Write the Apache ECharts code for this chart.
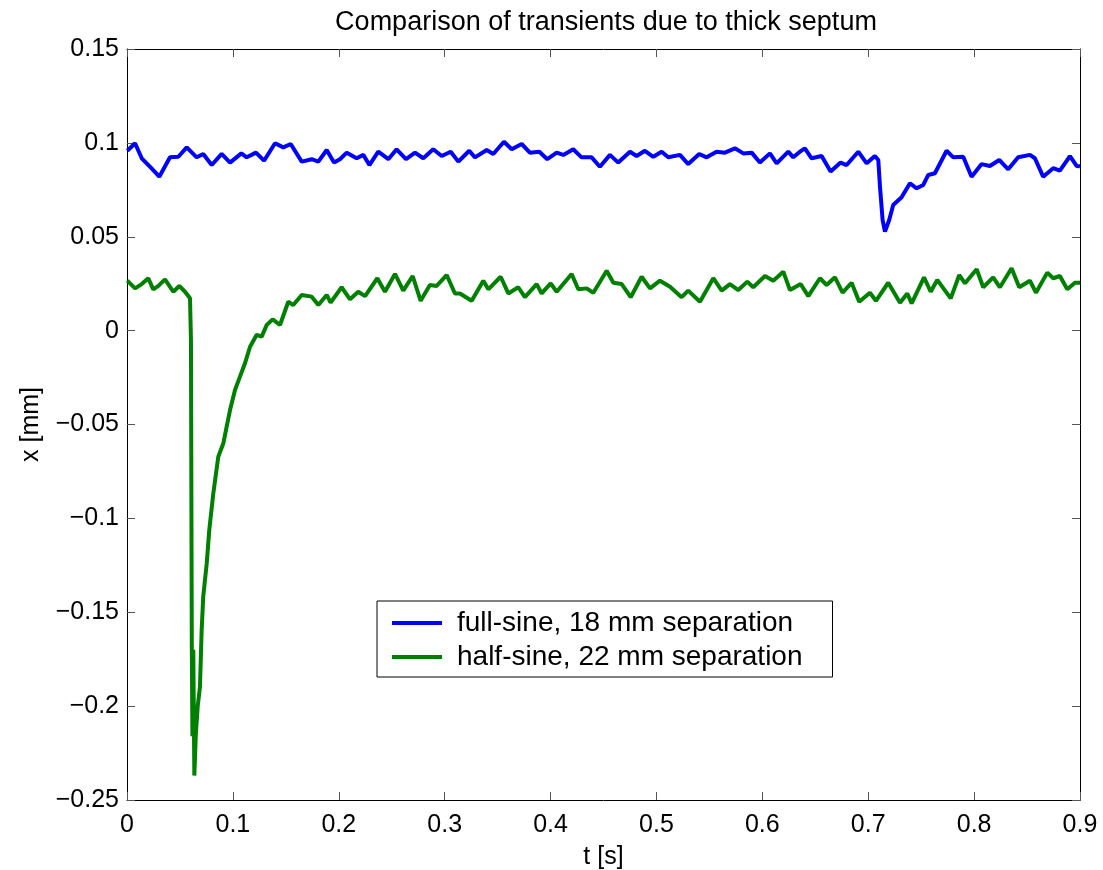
<!DOCTYPE html>
<html>
<head>
<meta charset="utf-8">
<script src="https://cdn.jsdelivr.net/npm/echarts@6/dist/echarts.min.js"></script>
<style>
html,body{margin:0;padding:0;background:#fff;}
#chart{width:1103px;height:870px;}
</style>
</head>
<body>
<div id="chart"></div>
<script>
const chartTitle = 'Comparison of transients due to thick septum';
const xName = 't [s]';
const yName = 'x [mm]';
const seriesNames = ['full-sine, 18 mm separation', 'half-sine, 22 mm separation'];

const tBlue = [0.0003,0.0076,0.0139,0.023,0.0305,0.0406,0.0485,0.0564,0.0658,0.072,0.08,0.0894,0.0973,0.108,0.113,0.1218,0.1294,0.1398,0.1476,0.1546,0.165,0.1744,0.1807,0.1886,0.1955,0.2011,0.2075,0.2169,0.2232,0.2289,0.2373,0.2468,0.2546,0.2635,0.272,0.2798,0.2892,0.2972,0.3057,0.3129,0.3232,0.3286,0.3397,0.3459,0.356,0.3633,0.3727,0.3805,0.3894,0.3969,0.4058,0.412,0.4214,0.4293,0.4388,0.4466,0.4561,0.4639,0.475,0.4813,0.4891,0.497,0.5049,0.5112,0.5222,0.53,0.5404,0.5474,0.5568,0.5647,0.5741,0.582,0.5899,0.5977,0.6072,0.6135,0.6245,0.6292,0.6355,0.6402,0.6465,0.656,0.6645,0.6739,0.6796,0.6906,0.6985,0.7063,0.7095,0.7111,0.7136,0.7158,0.7198,0.7236,0.7315,0.7394,0.7457,0.752,0.7567,0.763,0.774,0.7803,0.7897,0.7976,0.8071,0.8149,0.8237,0.8322,0.8416,0.8527,0.8574,0.8652,0.8747,0.881,0.8905,0.8968,0.9];
const xBlue = [0.0958,0.0998,0.0918,0.0865,0.082,0.0923,0.0926,0.0976,0.0923,0.0941,0.0882,0.0941,0.0895,0.0944,0.0923,0.0948,0.0905,0.0998,0.0976,0.0994,0.09,0.0913,0.09,0.0962,0.0895,0.0913,0.0948,0.0918,0.0936,0.0882,0.0953,0.0913,0.0966,0.0913,0.0948,0.0918,0.0966,0.093,0.0953,0.09,0.0958,0.0923,0.0962,0.0941,0.1006,0.0966,0.0994,0.0948,0.0953,0.0913,0.0948,0.0936,0.0966,0.0923,0.0923,0.0873,0.0936,0.0895,0.0953,0.093,0.0958,0.0926,0.0953,0.0923,0.0936,0.0887,0.0941,0.0923,0.0953,0.0948,0.0971,0.0944,0.0948,0.0895,0.0944,0.0891,0.0953,0.0923,0.0953,0.0971,0.0918,0.093,0.0847,0.0895,0.0882,0.0953,0.0891,0.093,0.0909,0.0767,0.0589,0.0527,0.0589,0.0669,0.071,0.0785,0.0758,0.0776,0.0829,0.0838,0.0958,0.0923,0.0926,0.082,0.0887,0.0877,0.0909,0.0859,0.0923,0.0936,0.0918,0.082,0.0865,0.0852,0.093,0.0877,0.0875];

const tGreen = [0.0003,0.0076,0.0139,0.0201,0.0248,0.0296,0.0359,0.0437,0.0494,0.0548,0.0595,0.0604,0.0612,0.0618,0.0626,0.0636,0.065,0.0668,0.0689,0.0705,0.072,0.0753,0.0777,0.0815,0.0862,0.091,0.0941,0.0973,0.102,0.1067,0.1114,0.1162,0.1225,0.1272,0.1319,0.1376,0.1445,0.1523,0.157,0.165,0.1744,0.1807,0.1886,0.1923,0.2027,0.2106,0.2184,0.2248,0.2364,0.2436,0.2531,0.2609,0.2698,0.2773,0.2861,0.2924,0.3019,0.3097,0.3144,0.3255,0.3365,0.3412,0.3529,0.3601,0.3695,0.3758,0.3869,0.3916,0.4001,0.4058,0.4199,0.4262,0.4341,0.4404,0.453,0.4593,0.4672,0.4757,0.486,0.4939,0.5033,0.5128,0.5238,0.53,0.5411,0.5537,0.5616,0.5694,0.5773,0.5858,0.5914,0.6025,0.6103,0.6198,0.6261,0.6362,0.6434,0.6544,0.6607,0.6686,0.6758,0.6843,0.6915,0.7016,0.7073,0.7189,0.73,0.7369,0.741,0.7527,0.759,0.7652,0.7779,0.786,0.7914,0.8024,0.8086,0.818,0.8244,0.8354,0.8426,0.8527,0.8584,0.8691,0.8747,0.881,0.888,0.8952,0.9];
const xGreen = [0.0266,0.0225,0.0248,0.0279,0.022,0.0238,0.0273,0.0207,0.0238,0.0207,0.0172,-0.005,-0.168,-0.216,-0.17,-0.237,-0.215,-0.2,-0.1897,-0.1595,-0.1417,-0.1239,-0.1062,-0.0867,-0.0672,-0.06,-0.0512,-0.0423,-0.0316,-0.0245,-0.0174,-0.0086,-0.0022,-0.0032,0.003,0.006,0.003,0.0154,0.0136,0.019,0.0181,0.0136,0.019,0.0149,0.0231,0.0167,0.0207,0.0184,0.0279,0.0207,0.0302,0.0213,0.0291,0.0159,0.0243,0.0238,0.0296,0.0198,0.0198,0.0159,0.0266,0.022,0.0287,0.0198,0.0231,0.0178,0.0248,0.0198,0.0252,0.0207,0.0302,0.022,0.0225,0.0202,0.0319,0.0255,0.0248,0.0178,0.0287,0.0225,0.0266,0.0234,0.0178,0.0213,0.0154,0.0279,0.0213,0.0248,0.0216,0.0261,0.0231,0.0291,0.0266,0.0314,0.0216,0.0248,0.0184,0.0279,0.0243,0.0284,0.0202,0.0255,0.0154,0.0202,0.0159,0.0255,0.0149,0.0198,0.0145,0.0284,0.0207,0.027,0.0172,0.0296,0.0252,0.0327,0.0231,0.0284,0.0231,0.0332,0.0231,0.0266,0.0202,0.0309,0.0279,0.0291,0.022,0.0255,0.0255];

const xTicks = [0, 0.1, 0.2, 0.3, 0.4, 0.5, 0.6, 0.7, 0.8, 0.9];
const yTicks = [-0.25, -0.2, -0.15, -0.1, -0.05, 0, 0.05, 0.1, 0.15];

function zip(a, b) { return a.map((v, i) => [v, b[i]]); }
function fmt(v) {
  const r = Math.round(v * 100) / 100;
  return String(r).replace('-', '\u2212');
}

const FONT = '"Liberation Sans", Arial, sans-serif';
const chart = echarts.init(document.getElementById('chart'), null, {renderer: 'canvas'});

const axisCommon = {
  axisLine: {show: true, onZero: false, lineStyle: {color: '#000', width: 1}},
  axisTick: {show: true, inside: true, length: 8, lineStyle: {color: '#555', width: 1}},
  splitLine: {show: false}
};

chart.setOption({
  animation: false,
  backgroundColor: '#fff',
  title: {
    text: chartTitle,
    left: 601, top: 4, textAlign: 'center',
    textStyle: {fontFamily: FONT, fontSize: 27, fontWeight: 'normal', color: '#000'}
  },
  grid: {left: 127, right: 23, top: 49, bottom: 70, containLabel: false, outerBoundsMode: 'none'},
  legend: {
    orient: 'vertical',
    left: 377, top: 601,
    padding: [8, 30, 6, 15],
    itemGap: 6,
    itemWidth: 50, itemHeight: 4,
    icon: 'rect',
    borderColor: '#000', borderWidth: 1,
    backgroundColor: '#fff',
    textStyle: {fontFamily: FONT, fontSize: 28, color: '#000', padding: [0, 0, 0, 10]},
    data: seriesNames
  },
  xAxis: [
    Object.assign({
      type: 'value', min: 0, max: 0.9, interval: 0.1, position: 'bottom',
      name: xName, nameLocation: 'middle', nameGap: 45,
      nameTextStyle: {fontFamily: FONT, fontSize: 25, color: '#000'},
      axisLabel: {fontFamily: FONT, fontSize: 25, color: '#000', margin: 13, formatter: fmt}
    }, axisCommon),
    Object.assign({
      type: 'value', min: 0, max: 0.9, interval: 0.1, position: 'top',
      axisLabel: {show: false}
    }, axisCommon)
  ],
  yAxis: [
    Object.assign({
      type: 'value', min: -0.25, max: 0.15, interval: 0.05, position: 'left',
      name: yName, nameLocation: 'middle', nameGap: 83, nameRotate: 90,
      nameTextStyle: {fontFamily: FONT, fontSize: 25, color: '#000'},
      axisLabel: {fontFamily: FONT, fontSize: 25, color: '#000', margin: 8, formatter: fmt}
    }, axisCommon),
    Object.assign({
      type: 'value', min: -0.25, max: 0.15, interval: 0.05, position: 'right',
      axisLabel: {show: false}
    }, axisCommon)
  ],
  series: [
    {
      name: seriesNames[0], type: 'line', showSymbol: false, symbol: 'none',
      data: zip(tBlue, xBlue), color: '#0000ff',
      lineStyle: {color: '#0000ff', width: 4}
    },
    {
      name: seriesNames[1], type: 'line', showSymbol: false, symbol: 'none',
      data: zip(tGreen, xGreen), color: '#008000',
      lineStyle: {color: '#008000', width: 4}
    }
  ]
});
</script>
</body>
</html>
